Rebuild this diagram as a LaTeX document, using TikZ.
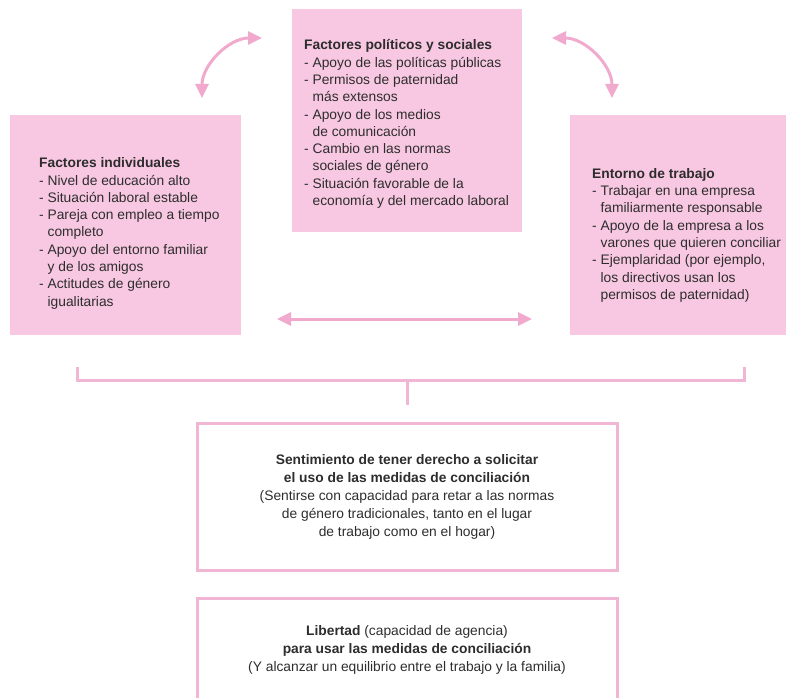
\documentclass[tikz,border=0pt]{standalone}
\usepackage{fontspec}
\setmainfont{Liberation Sans}
\usetikzlibrary{positioning,arrows.meta}
\definecolor{boxpink}{RGB}{248,200,226}
\definecolor{arrowpink}{RGB}{241,170,206}
\definecolor{linepink}{RGB}{242,182,213}
\definecolor{textgray}{RGB}{45,45,45}
\newcommand{\cont}{\hphantom{- }}

\begin{document}
\begin{tikzpicture}[x=1pt,y=-1pt,
	every node/.style={text=textgray,font=\fontsize{13.8}{17.3}\selectfont},
	factorbox/.style={fill=boxpink,inner sep=0pt},
	listtext/.style={align=left,inner sep=0pt,anchor=north west},
	resultbox/.style={draw=linepink,line width=3pt,inner sep=0pt,align=center,
		minimum width=420pt,font=\fontsize{13.8}{18}\selectfont},
	pinkarrow/.style={draw=arrowpink,line width=3pt,>={Triangle[length=14pt,width=13pt]},<->},
	bracket/.style={draw=linepink,line width=3pt}]
	\useasboundingbox (0,0) rectangle (788,698);
	% factor boxes
	\node[factorbox,minimum width=231pt,minimum height=220pt] (indiv) at (125.5,225) {};
	\node[factorbox,minimum width=230pt,minimum height=223pt] (polit) at (407,120.5) {};
	\node[factorbox,minimum width=216pt,minimum height=220pt] (trabajo) at (678,225) {};
	\node[listtext] (indivtxt) at (39,157.5) {\textbf{Factores individuales}\\
		- Nivel de educación alto\\
		- Situación laboral estable\\
		- Pareja con empleo a tiempo\\
		\cont completo\\
		- Apoyo del entorno familiar\\
		\cont y de los amigos\\
		- Actitudes de género\\
		\cont igualitarias};
	\node[listtext] (polittxt) at (304,39.5) {\textbf{Factores políticos y sociales}\\
		- Apoyo de las políticas públicas\\
		- Permisos de paternidad\\
		\cont más extensos\\
		- Apoyo de los medios\\
		\cont de comunicación\\
		- Cambio en las normas\\
		\cont sociales de género\\
		- Situación favorable de la\\
		\cont economía y del mercado laboral};
	\node[listtext] (trabajotxt) at (592,168) {\textbf{Entorno de trabajo}\\
		- Trabajar en una empresa\\
		\cont familiarmente responsable\\
		- Apoyo de la empresa a los\\
		\cont varones que quieren conciliar\\
		- Ejemplaridad (por ejemplo,\\
		\cont los directivos usan los\\
		\cont permisos de paternidad)};
	% arrows between factors
	\coordinate (curveL) at (202,98);
	\coordinate (curveR) at (612,98);
	\coordinate (midL) at (277,319);
	\coordinate (midR) at (532,319);
	\draw[pinkarrow] (curveL) arc[start angle=180,end angle=270,radius=60];
	\draw[pinkarrow] (curveR) arc[start angle=0,end angle=-90,radius=60];
	\draw[pinkarrow] (midL) -- (midR);
	% bracket
	\coordinate (brL) at (77,367);
	\coordinate (brR) at (744,367);
	\coordinate (brM) at (407,380);
	\coordinate (stem) at (407,405);
	\draw[bracket] (brL) -- (brL |- brM) -- (brR |- brM) -- (brR);
	\draw[bracket] (brM) -- (stem);
	% result boxes
	\node[resultbox,minimum height=147pt] (sentim) at (407,496.5)
		{\textbf{Sentimiento de tener derecho a solicitar}\\
		\textbf{el uso de las medidas de conciliación}\\
		(Sentirse con capacidad para retar a las normas\\
		de género tradicionales, tanto en el lugar\\
		de trabajo como en el hogar)};
	\node[resultbox,minimum height=104pt] (libertad) at (407,650)
		{\textbf{Libertad} (capacidad de agencia)\\
		\textbf{para usar las medidas de conciliación}\\
		(Y alcanzar un equilibrio entre el trabajo y la familia)};
\end{tikzpicture}
\end{document}
